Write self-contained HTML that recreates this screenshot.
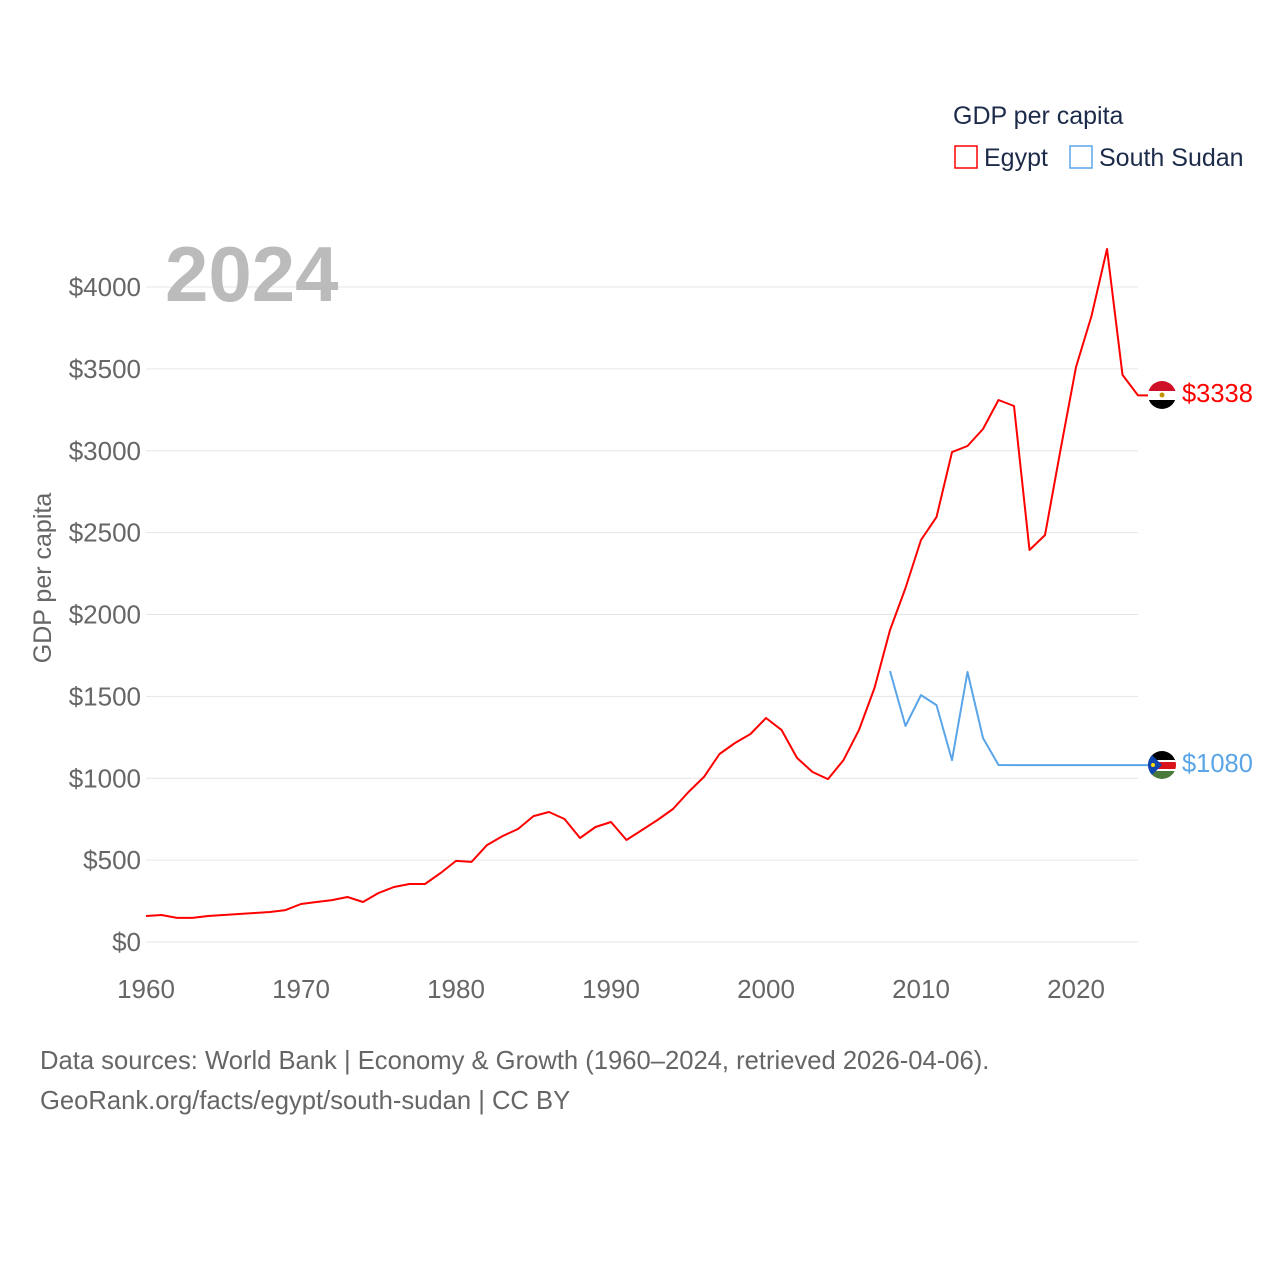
<!DOCTYPE html>
<html><head><meta charset="utf-8"><style>
html,body{margin:0;padding:0;background:#fff;width:1280px;height:1280px;overflow:hidden}
svg{display:block;font-family:"Liberation Sans",Arial,sans-serif}
</style></head><body>
<svg id="chart" width="1280" height="1280" viewBox="0 0 1280 1280">
<g id="grid"></g>
<g id="yticks"></g>
<g id="xticks"></g>
<text x="51" y="578" transform="rotate(-90 51 578)" text-anchor="middle" font-size="25" fill="#666">GDP per capita</text>
<text x="165" y="301" font-size="78" font-weight="bold" fill="#bbb">2024</text>
<g id="series"></g>
<g>
<text x="953" y="124" font-size="25" fill="#1d2b4a">GDP per capita</text>
<rect x="955" y="146" width="22" height="22" fill="none" stroke="#f00" stroke-width="1.5"/>
<text x="984" y="166" font-size="25" fill="#1d2b4a">Egypt</text>
<rect x="1070" y="146" width="22" height="22" fill="none" stroke="#5aa5e8" stroke-width="1.5"/>
<text x="1099" y="166" font-size="25" fill="#1d2b4a">South Sudan</text>
</g>
<g>
<clipPath id="c1"><circle cx="1162" cy="395" r="14"/></clipPath>
<g clip-path="url(#c1)"><rect x="1148" y="381" width="28" height="10" fill="#ce1126"/><rect x="1148" y="391" width="28" height="9" fill="#fff"/><rect x="1148" y="400" width="28" height="10" fill="#000"/><circle cx="1162" cy="395" r="2.5" fill="#c09300"/></g>
</g>
<g>
<clipPath id="c2"><circle cx="1162" cy="765" r="14"/></clipPath>
<g clip-path="url(#c2)"><rect x="1148" y="751" width="28" height="10" fill="#000"/><rect x="1148" y="760" width="28" height="11" fill="#fff"/><rect x="1148" y="762" width="28" height="7" fill="#da121a"/><rect x="1148" y="771" width="28" height="9" fill="#4a7a3a"/><polygon points="1148,751 1162,765 1148,779" fill="#0f47af"/><circle cx="1153" cy="765" r="2" fill="#fcdd09"/></g>
</g>
<text x="1182" y="402" font-size="25.5" fill="#f00">$3338</text>
<text x="1182" y="772" font-size="25.5" fill="#5aa5e8">$1080</text>
<text x="40" y="1069" font-size="25.6" fill="#666">Data sources: World Bank | Economy &amp; Growth (1960–2024, retrieved 2026-04-06).</text>
<text x="40" y="1109" font-size="25.6" fill="#666">GeoRank.org/facts/egypt/south-sudan | CC BY</text>
</svg>
<script>
const egyptYears=[1960,1961,1962,1963,1964,1965,1966,1967,1968,1969,1970,1971,1972,1973,1974,1975,1976,1977,1978,1979,1980,1981,1982,1983,1984,1985,1986,1987,1988,1989,1990,1991,1992,1993,1994,1995,1996,1997,1998,1999,2000,2001,2002,2003,2004,2005,2006,2007,2008,2009,2010,2011,2012,2013,2014,2015,2016,2017,2018,2019,2020,2021,2022,2023,2024];
const egyptValues=[159,165,147,147,159,165,171,177,183,195,232,244,256,275,244,299,336,354,354,421,495,489,592,647,690,769,794,751,635,702,733,623,684,745,812,916,1008,1148,1215,1270,1368,1295,1124,1038,995,1111,1295,1551,1905,2162,2455,2595,2992,3029,3133,3310,3273,2394,2485,3005,3511,3823,4232,3463,3338];
const ssYears=[2008,2009,2010,2011,2012,2013,2014,2015,2016,2017,2018,2019,2020,2021,2022,2023,2024];
const ssValues=[1655,1319,1508,1447,1111,1649,1246,1081,1080,1080,1080,1080,1080,1080,1080,1080,1080];
const yTicks=[0,500,1000,1500,2000,2500,3000,3500,4000];
const xTicks=[1960,1970,1980,1990,2000,2010,2020];
const NS='http://www.w3.org/2000/svg';
const X=y=>146+(y-1960)*15.5;
const Y=v=>942-v*0.16375;
function mk(t,a,p){const e=document.createElementNS(NS,t);for(const k in a)e.setAttribute(k,a[k]);p.appendChild(e);return e;}
const grid=document.getElementById('grid'),yt=document.getElementById('yticks'),xt=document.getElementById('xticks'),ser=document.getElementById('series');
yTicks.forEach(v=>{
 const l=mk('line',{x1:146,x2:1138,y1:Y(v),y2:Y(v),stroke:'#e6e6e6','stroke-width':1},grid);
 
 
 const t=mk('text',{x:141,y:Y(v)+9,'text-anchor':'end','font-size':26,fill:'#666'},yt);
 t.textContent='$'+v;
 
 
});
xTicks.forEach(y=>{
 const t=mk('text',{x:X(y),y:998,'text-anchor':'middle','font-size':26,fill:'#666'},xt);
 t.textContent=y;
 
 
});
function line(ys,vs,color,name){
 let d=ys.map((y,i)=>(i?'L':'M')+X(y).toFixed(1)+','+Y(vs[i]).toFixed(1)).join(' ');
 d+=' L1148,'+Y(vs[vs.length-1]).toFixed(1);
 const p=mk('path',{d:d,fill:'none',stroke:color,'stroke-width':2,'stroke-linejoin':'round'},ser);
 
 
}
line(egyptYears,egyptValues,'#f00','egypt-line');
line(ssYears,ssValues,'#5aa5e8','south-sudan-line');
</script>
</body></html>
